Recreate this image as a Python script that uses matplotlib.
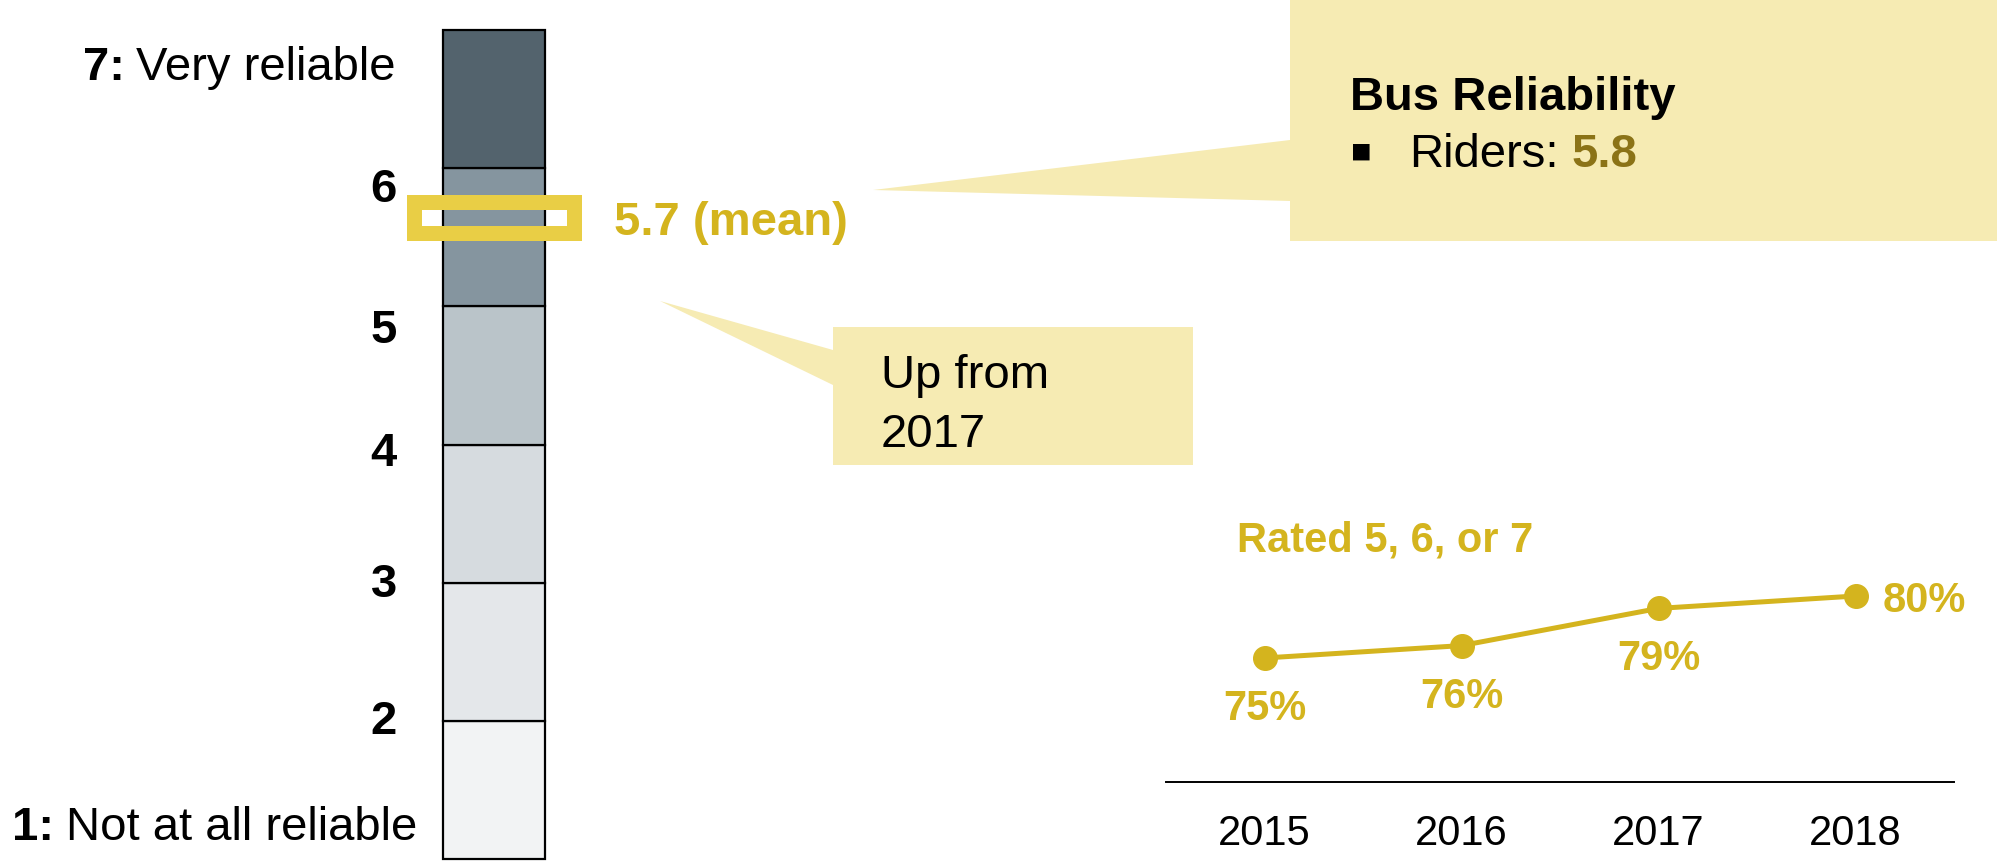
import matplotlib
matplotlib.use('Agg')
import matplotlib.pyplot as plt
from matplotlib.patches import Polygon, Rectangle
import matplotlib.transforms as mtransforms

plt.rcParams['font.family'] = ['Liberation Sans', 'DejaVu Sans']

# ---------------- data ----------------
scale_ticks = [1, 2, 3, 4, 5, 6, 7]
scale_tick_labels = ['1:', '2', '3', '4', '5', '6', '7:']
scale_end_words = {1: 'Not at all reliable', 7: 'Very reliable'}
segment_colors = ['#f2f3f4', '#e4e7ea', '#d6dbdf', '#bac4c9', '#85959f', '#53636d']
mean_score = 5.7
rider_score = 5.8
callout_title = 'Bus Reliability'
callout_item = 'Riders:'
callout_note_lines = ['Up from', '2017']
trend_title = 'Rated 5, 6, or 7'
years = [2015, 2016, 2017, 2018]
pct_rated_567 = [75, 76, 79, 80]

# ---------------- style / layout ----------------
GOLD = '#d4b41e'
FRAME = '#e9ce45'
CALLOUT = '#f6ebb3'
DARKGOLD = '#8b7317'
W, H = 1997, 861
BIG = 34
MID = 30
# baseline positions of the scale labels (in scale units)
label_baselines = [1.137, 1.905, 2.896, 3.844, 4.735, 5.755, 6.641]
label_right_px = [417, 397, 397, 397, 397, 397, 396]
box_shift = -0.06   # visual offset of the mean frame

fig = plt.figure(figsize=(W / 100, H / 100), dpi=100)

# overlay in pixel coordinates
ax0 = fig.add_axes([0, 0, 1, 1])
ax0.set_xlim(0, W)
ax0.set_ylim(H, 0)
ax0.axis('off')

# ---- callout shapes ----
c1 = Polygon([(873, 190), (1290, 201), (1290, 241), (W + 5, 241), (W + 5, -5),
              (1290, -5), (1290, 140)], closed=True, facecolor=CALLOUT,
             edgecolor='none')
c2 = Polygon([(660, 301), (833, 350), (833, 327), (1193, 327), (1193, 465),
              (833, 465), (833, 385)], closed=True, facecolor=CALLOUT,
             edgecolor='none')
ax0.add_patch(c1)
ax0.add_patch(c2)

ax0.text(1350, 110, callout_title, fontsize=BIG, fontweight='bold',
         ha='left', va='baseline', color='black')
ax0.text(1361, 151, '\u25aa', fontsize=24, ha='center', va='center',
         color='black', family=['DejaVu Sans'])
tr = ax0.text(1409, 167, callout_item, fontsize=BIG, ha='left',
              va='baseline', color='black')
ax0.annotate(f'{rider_score}', xy=(1, 0), xycoords=tr, xytext=(9.5, 0),
             textcoords='offset points', ha='left', va='bottom',
             fontsize=BIG, fontweight='bold', color=DARKGOLD)
for line, yb in zip(callout_note_lines, [388, 447]):
    ax0.text(881, yb, line, fontsize=BIG, ha='left', va='baseline',
             color='black')

ax0.text(614, 235, f'{mean_score} (mean)', fontsize=BIG, fontweight='bold',
         color=GOLD, ha='left', va='baseline')
ax0.text(1237, 552, trend_title, fontsize=MID, fontweight='bold',
         color=GOLD, ha='left', va='baseline')

# ---- stacked scale bar ----
bar_left, bar_right, bar_top, bar_bottom = 443, 545, 30, 859
ax1 = fig.add_axes([bar_left / W, (H - bar_bottom) / H,
                    (bar_right - bar_left) / W, (bar_bottom - bar_top) / H])
ax1.set_facecolor('none')
ax1.set_xlim(0, 1)
ax1.set_ylim(scale_ticks[0], scale_ticks[-1])
bottoms = scale_ticks[:-1]
heights = [b - a for a, b in zip(scale_ticks[:-1], scale_ticks[1:])]
bars = ax1.bar(0.5, heights, bottom=bottoms, width=1, color=segment_colors,
               edgecolor='black', linewidth=1.6, zorder=2)
for b in bars:
    b.set_clip_on(False)
ax1.axis('off')

# mean marker frame
box_h = 0.224
ax1.add_patch(Rectangle((-0.289, mean_score + box_shift - box_h / 2), 1.578,
                        box_h, fill=False, edgecolor=FRAME, linewidth=10.8,
                        joinstyle='miter', clip_on=False, zorder=5))

# scale labels
blend = mtransforms.blended_transform_factory(ax0.transData, ax1.transData)
for tick, lab, yb, xr in zip(scale_ticks, scale_tick_labels, label_baselines,
                             label_right_px):
    if tick in scale_end_words:
        t = ax0.text(xr, yb, scale_end_words[tick], transform=blend,
                     fontsize=BIG, ha='right', va='baseline', color='black')
        ax0.annotate(lab, xy=(0, 0), xycoords=t, xytext=(-8.6, 0),
                     textcoords='offset points', ha='right', va='bottom',
                     fontsize=BIG, fontweight='bold', color='black')
    else:
        ax0.text(xr, yb, lab, transform=blend, fontsize=BIG,
                 fontweight='bold', ha='right', va='baseline', color='black')

# ---- trend line chart ----
px_per_year = 197
px_per_pct = 12.4
ylo, yhi = 65, 88
ax_bottom_px = 782
ax_left_px = 1166
ax2 = fig.add_axes([ax_left_px / W, (H - ax_bottom_px) / H,
                    4 * px_per_year / W, (yhi - ylo) * px_per_pct / H])
ax2.set_facecolor('none')
ax2.set_xlim(2014.5, 2018.5)
ax2.set_ylim(ylo, yhi)
ax2.plot(years, pct_rated_567, color=GOLD, lw=3.6, marker='o', ms=17,
         zorder=3, clip_on=False)
for s in ['top', 'right', 'left']:
    ax2.spines[s].set_visible(False)
ax2.spines['bottom'].set_linewidth(1.4)
ax2.spines['bottom'].set_color('black')
ax2.set_xticks([])
ax2.set_yticks([])

for yr in years:
    ax2.annotate(str(yr), xy=(yr, 0), xycoords=('data', 'axes fraction'),
                 xytext=(0, -45.4), textcoords='offset points', ha='center',
                 va='baseline', fontsize=MID, color='black')

for i, (yr, v) in enumerate(zip(years, pct_rated_567)):
    if i == len(years) - 1:
        ax2.annotate(f'{v}%', xy=(yr, v), xytext=(19.4, -11.5),
                     textcoords='offset points', ha='left', va='baseline',
                     fontsize=MID, fontweight='bold', color=GOLD,
                     annotation_clip=False)
    else:
        ax2.annotate(f'{v}%', xy=(yr, v), xytext=(0, -44.6),
                     textcoords='offset points', ha='center', va='baseline',
                     fontsize=MID, fontweight='bold', color=GOLD,
                     annotation_clip=False)

fig.savefig('out.png', dpi=100, facecolor='white')
